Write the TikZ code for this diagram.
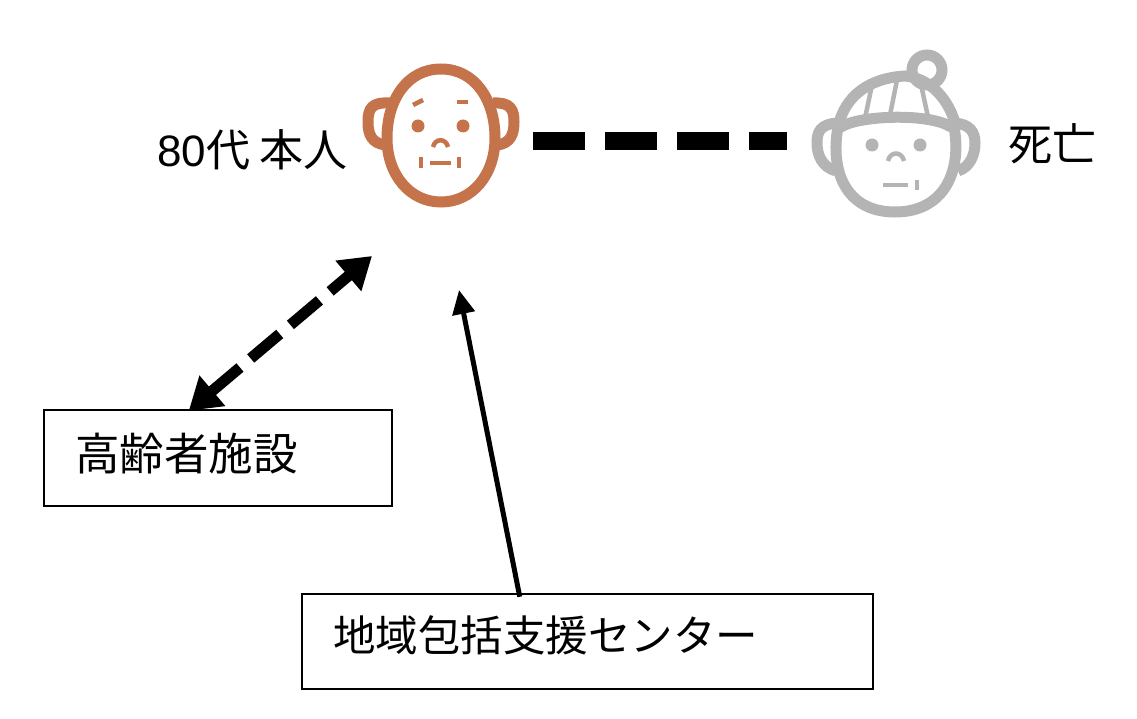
\documentclass[tikz,border=0pt]{standalone}
\usepackage{fontspec}
\setmainfont{Noto Sans CJK JP}
\newfontfamily\latinfont{Liberation Sans}
\usetikzlibrary{arrows.meta}
\definecolor{oldface}{HTML}{C4734A}
\definecolor{deadface}{HTML}{B4B4B4}
\tikzset{
	label text/.style={font=\fontsize{44}{44}\selectfont,inner sep=0pt,anchor=west},
	place box/.style={draw,line width=2.5pt,inner sep=0pt,inner xsep=31pt,align=left},
	face line/.style={line width=11pt},
	face thin/.style={line width=4.5pt},
}
\begin{document}
\begin{tikzpicture}[x=1pt,y=-1pt]
	\useasboundingbox (0,0) rectangle (1137,719);
	% old man
	\begin{scope}[color=oldface]
		\draw[face line] (441,69) .. controls (475,69) and (495,100) .. (495,138) .. controls (495,175) and (472,202) .. (441,202) .. controls (410,202) and (387,175) .. (387,138) .. controls (387,100) and (407,69) .. (441,69) -- cycle;
		\draw[face line] (390,103) .. controls (372,102) and (368,108) .. (368,122) .. controls (368,135) and (372,143) .. (385,145);
		\draw[face line] (493,103) .. controls (511,102) and (514,110) .. (514,122) .. controls (514,135) and (510,143) .. (498,145);
		\fill (418,126) circle [radius=6.5];
		\fill (463,126) circle [radius=6.5];
		\draw[face thin] (413,105) -- (423,100);
		\draw[face thin] (457,102) -- (468,102);
		\draw[face thin] (433,147) .. controls (435,138) and (446,138) .. (448,147);
		\draw[face thin] (430,163) -- (451,163);
		\draw[face thin] (421,157) -- (421,168);
		\draw[face thin] (459,157) -- (459,168);
	\end{scope}
	% boy with hat
	\begin{scope}[color=deadface]
		\draw[face line] (927,70) circle [radius=15];
		\draw[face line] (838,127) .. controls (845,95) and (870,78) .. (905,76) .. controls (930,78) and (950,100) .. (956,127);
		\draw[face line] (841,127) .. controls (860,115) and (930,113) .. (951,127);
		\draw[face line] (838,127) .. controls (830,170) and (845,212) .. (895,212) .. controls (945,212) and (962,170) .. (954,127);
		\draw[face line] (838,123) .. controls (820,124) and (817,132) .. (817,143) .. controls (817,155) and (822,167) .. (836,171);
		\draw[face line] (954,123) .. controls (970,124) and (975,132) .. (975,143) .. controls (975,155) and (970,167) .. (958,171);
		\draw[face thin] (872,85) -- (865,118);
		\draw[face thin] (897,80) -- (890,115);
		\draw[face thin] (920,80) -- (928,117);
		\fill (872,145) circle [radius=6.5];
		\fill (920,145) circle [radius=6.5];
		\draw[face thin] (888,161) .. controls (890,151) and (902,151) .. (904,161);
		\draw[face thin] (883,185) -- (908,185);
		\draw[face thin] (917,180) -- (917,190);
	\end{scope}
	\node[label text] (selfName) at (157,150) {{\latinfont 80}代 本人};
	\node[label text] (deadName) at (1008,144) {死亡};
	\node[place box,minimum height=96pt,text width=286pt,font=\fontsize{44.5}{44.5}\selectfont] (facility) at (218,458) {\raisebox{12pt}{高齢者施設}};
	\node[place box,minimum height=95pt,text width=509pt,font=\fontsize{42.5}{42.5}\selectfont] (center) at (587.5,641.5) {\raisebox{15pt}{地域包括支援センター}};
	\coordinate (selfLink) at (533,141);
	\coordinate (deadLink) at (787,141);
	\coordinate (selfFacility) at (372,256);
	\coordinate (selfCenter) at (459,290);
	\draw[line width=18pt,dash pattern=on 52pt off 20pt] (selfLink) -- (deadLink);
	\draw[{Triangle[length=31pt,width=38pt]}-{Triangle[length=31pt,width=38pt]},line width=11pt,dash pattern=on 38pt off 14pt] ([xshift=146pt,yshift=-2pt]facility.north west) -- (selfFacility);
	\draw[-{Triangle[length=24pt,width=22pt]},line width=5pt] ([xshift=219pt,yshift=-4pt]center.north west) -- (selfCenter);
\end{tikzpicture}
\end{document}
